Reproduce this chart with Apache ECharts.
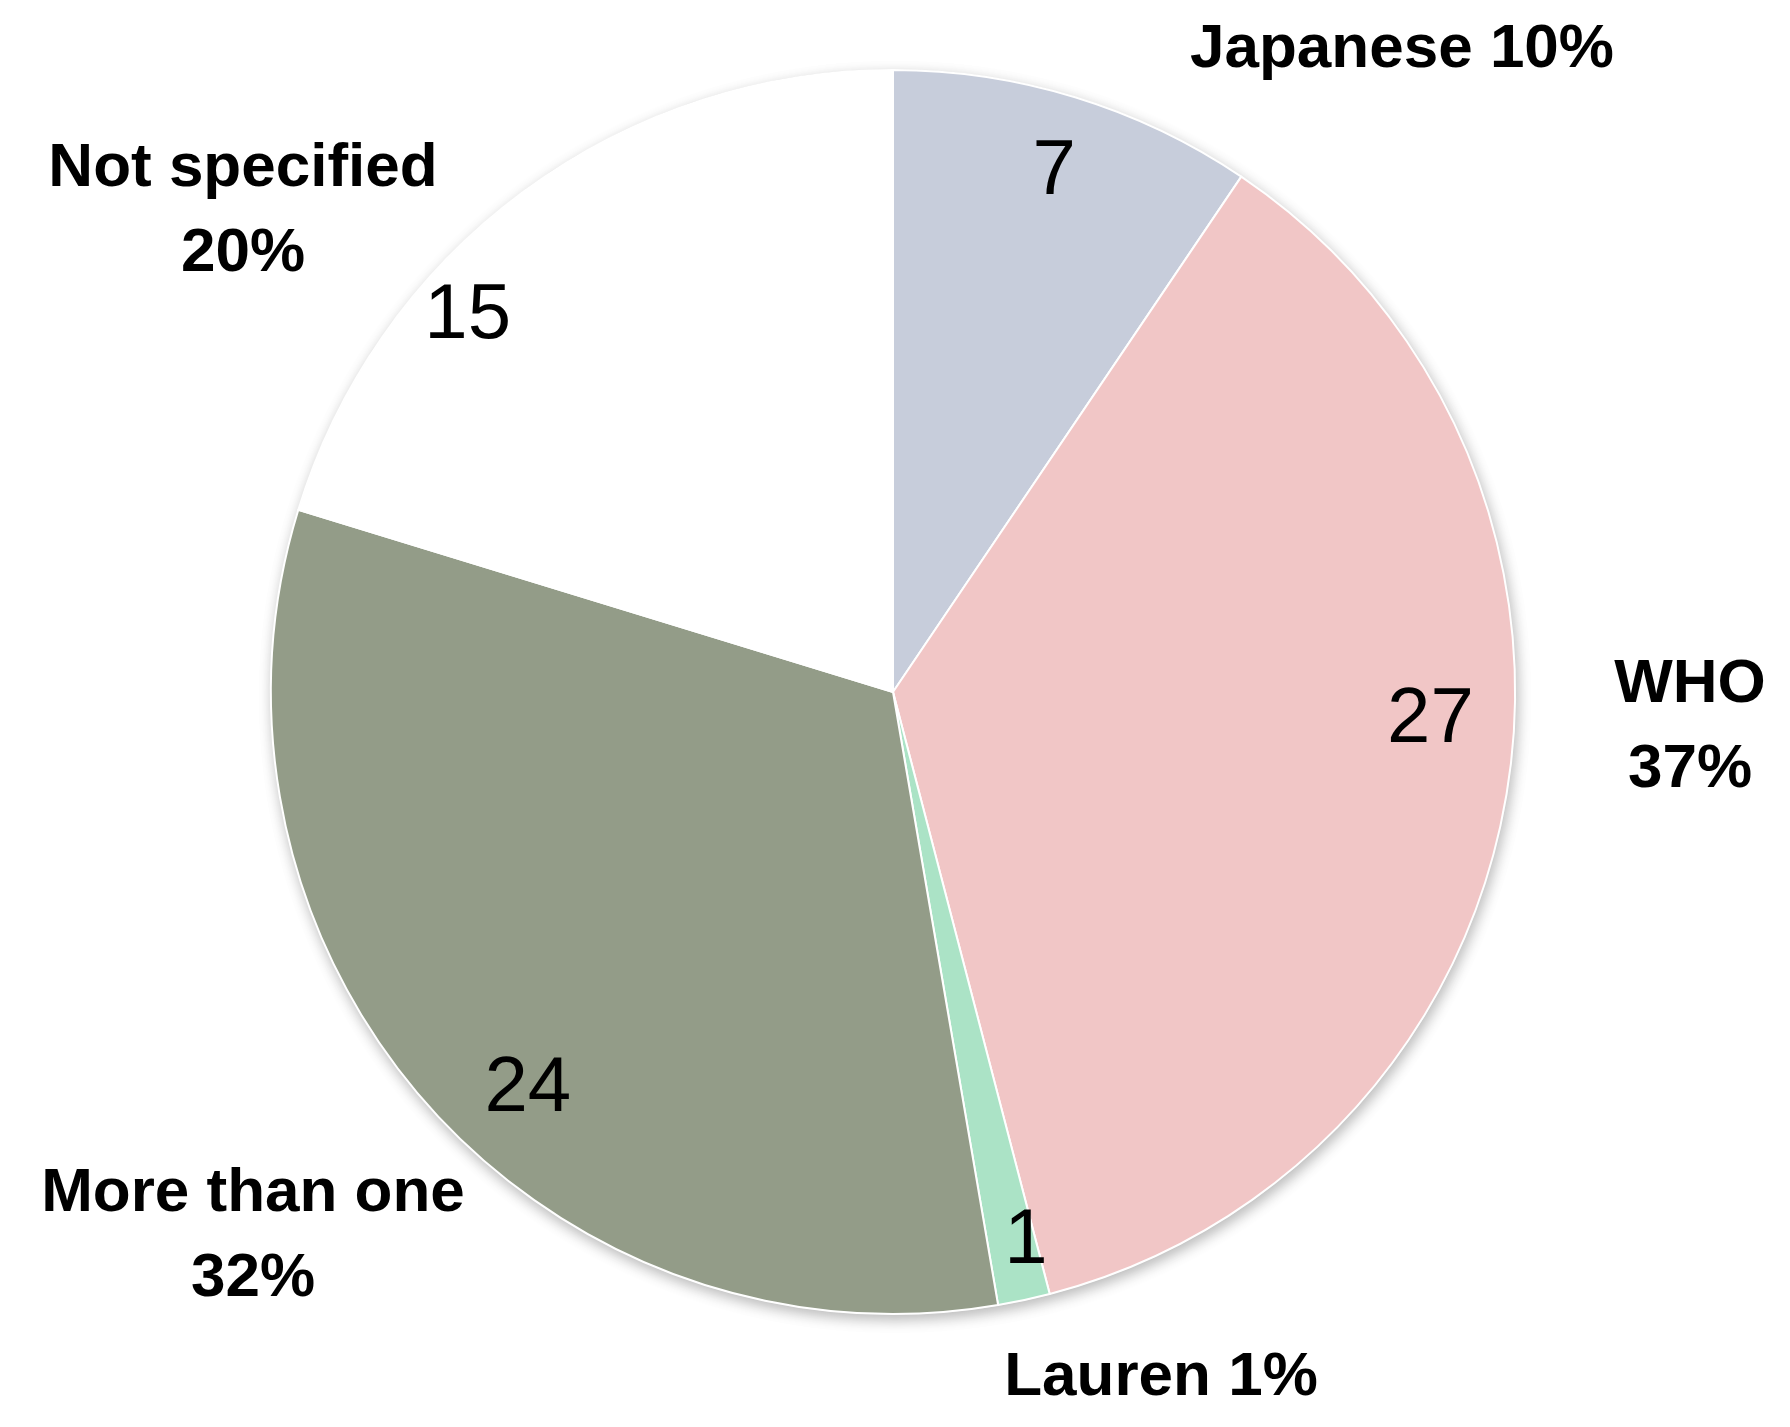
<!DOCTYPE html>
<html>
<head>
<meta charset="utf-8">
<style>html,body{margin:0;padding:0;background:#fff;}#c{width:1790px;height:1427px;}</style>
<script src="https://cdn.jsdelivr.net/npm/echarts@6/dist/echarts.min.js"></script>
</head>
<body>
<div id="c"></div>
<script>
// ---- data ----
const categories = ['Japanese', 'WHO', 'Lauren', 'More than one', 'Not specified'];
const counts = [7, 27, 1, 24, 15];
const percentLabels = ['10%', '37%', '1%', '32%', '20%'];
const colors = ['#C7CDDB', '#F1C6C6', '#ABE3C6', '#939C88', '#FFFFFF'];

// ---- layout (label anchors for the outside category labels) ----
const CENTER = [893, 692];
const R = 622;
const outsideAnchors = [
  {x: 1402, y: 50, lines: 1},
  {x: 1690, y: 727, lines: 2},
  {x: 1161, y: 1378, lines: 1},
  {x: 253, y: 1236, lines: 2},
  {x: 243, y: 211, lines: 2}
];
const innerOffsets = [
  {dx: 0, dy: 7}, {dx: -5, dy: -65}, {dx: 17, dy: 11}, {dx: 48, dy: 34}, {dx: -98, dy: 67}
];

const total = counts.reduce((a, b) => a + b, 0);
const chart = echarts.init(document.getElementById('c'));

const mainData = categories.map((c, i) => ({
  name: c,
  value: counts[i],
  itemStyle: {color: colors[i]}
}));

chart.setOption({
  animation: false,
  backgroundColor: '#ffffff',
  series: [
    {
      // backdrop with soft shadow
      type: 'pie', silent: true, z: 1,
      center: CENTER, radius: [0, R],
      data: [{value: total, name: 'bg'}],
      itemStyle: {color: '#ffffff', borderColor: '#d9d9d9', borderWidth: 1.5,
        shadowBlur: 14, shadowColor: 'rgba(0,0,0,0.28)', shadowOffsetX: 2, shadowOffsetY: 5},
      label: {show: false}, labelLine: {show: false}
    },
    {
      type: 'pie', z: 2,
      center: CENTER, radius: [0, R],
      startAngle: 90, clockwise: true,
      data: mainData,
      itemStyle: {borderColor: '#ffffff', borderWidth: 2},
      label: {
        show: true, position: 'outside', overflow: 'none', width: 600,
        formatter: p => {
          const i = p.dataIndex;
          return outsideAnchors[i].lines === 2
            ? categories[i] + '\n' + percentLabels[i]
            : categories[i] + ' ' + percentLabels[i];
        },
        fontFamily: 'Liberation Sans', fontWeight: 'bold', fontSize: 62,
        color: '#000', lineHeight: 85, align: 'center'
      },
      labelLine: {show: false},
      labelLayout: p => ({
        x: outsideAnchors[p.dataIndex].x,
        y: outsideAnchors[p.dataIndex].y,
        align: 'center', verticalAlign: 'middle'
      })
    },
    {
      // value labels ring
      type: 'pie', z: 3, silent: true,
      center: CENTER, radius: [R * 0.76, R],
      startAngle: 90, clockwise: true,
      data: categories.map((c, i) => ({name: c, value: counts[i]})),
      itemStyle: {color: 'rgba(0,0,0,0)', borderWidth: 0},
      label: {
        show: true, position: 'inside',
        formatter: p => String(counts[p.dataIndex]),
        fontFamily: 'Liberation Sans', fontSize: 78, color: '#000'
      },
      labelLine: {show: false},
      labelLayout: p => ({dx: innerOffsets[p.dataIndex].dx, dy: innerOffsets[p.dataIndex].dy})
    }
  ]
});
</script>
</body>
</html>
